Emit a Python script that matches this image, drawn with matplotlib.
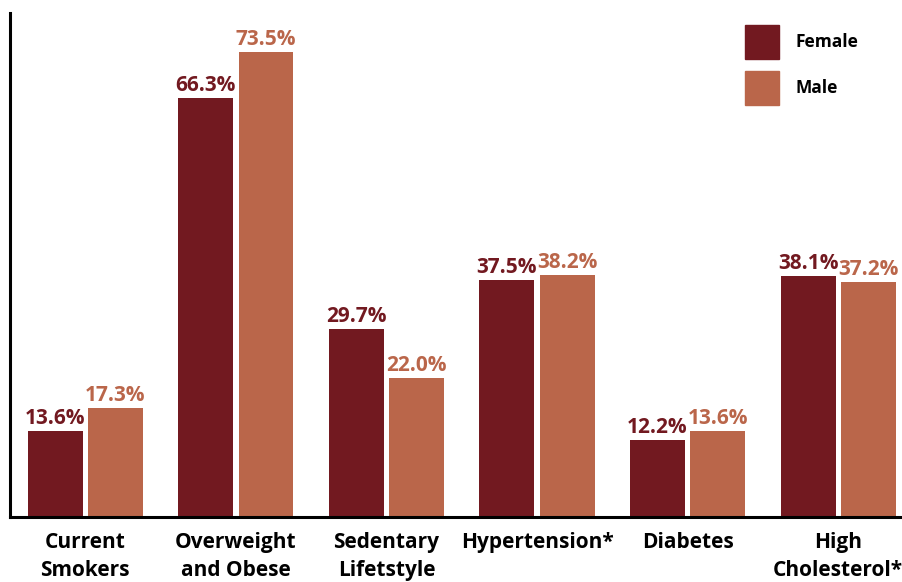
import matplotlib
matplotlib.use("Agg")
import matplotlib.pyplot as plt
from matplotlib.patches import Rectangle
import numpy as np

# Data
categories = ["Current\nSmokers", "Overweight\nand Obese", "Sedentary\nLifetstyle",
              "Hypertension*", "Diabetes", "High\nCholesterol*"]
female = [13.6, 66.3, 29.7, 37.5, 12.2, 38.1]
male = [17.3, 73.5, 22.0, 38.2, 13.6, 37.2]
series_names = ["Female", "Male"]

female_color = "#721920"
male_color = "#BA664A"

plt.rcParams['font.family'] = ['Open Sans', 'DejaVu Sans']

W, H = 903, 582
fig = plt.figure(figsize=(W / 100, H / 100), dpi=100)
ax = fig.add_axes([10 / W, 65 / H, 893 / W, 504 / H])

x = np.arange(len(categories))
w = 0.365
off = 0.2

b1 = ax.bar(x - off, female, w, color=female_color)
b2 = ax.bar(x + off, male, w, color=male_color)

for bars, vals, col in [(b1, female, female_color), (b2, male, male_color)]:
    for b, v in zip(bars, vals):
        ax.annotate(f"{v:.1f}%", (b.get_x() + b.get_width() / 2, v),
                    xytext=(0, 1.5), textcoords="offset points",
                    ha="center", va="bottom", color=col,
                    fontsize=15, fontweight="bold")

ax.set_xlim(-0.5, 5.43)
ax.set_ylim(0, 79.7)
ax.set_xticks(x)
ax.set_xticklabels(categories, fontsize=15, fontweight="bold", linespacing=1.4)
ax.tick_params(axis="x", length=0, pad=11)
ax.set_yticks([])

for s in ["top", "right"]:
    ax.spines[s].set_visible(False)
for s in ["left", "bottom"]:
    ax.spines[s].set_linewidth(2.2)
    ax.spines[s].set_color("black")

# legend drawn by hand (squares + labels)
for i, (name, col) in enumerate(zip(series_names, [female_color, male_color])):
    top = 25 + i * 46
    fig.patches.append(Rectangle((745 / W, 1 - (top + 34) / H), 34 / W, 34 / H,
                                 transform=fig.transFigure, color=col))
    fig.text(796 / W, 1 - (top + 17) / H, name, ha="left", va="center",
             fontsize=12.5, fontweight="bold")

fig.savefig("out.png", dpi=100)
